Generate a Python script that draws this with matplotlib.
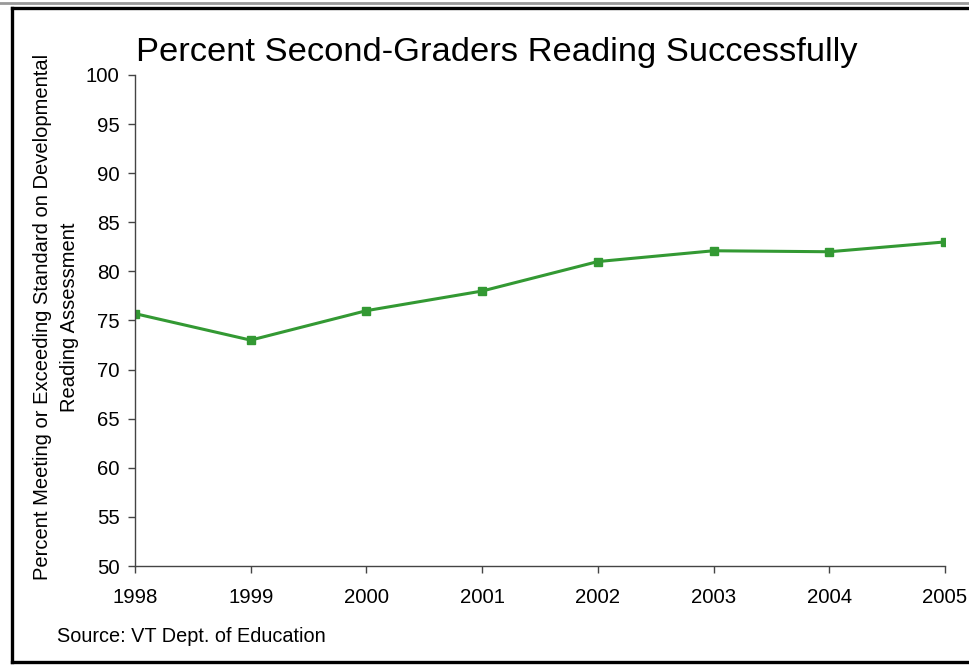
import matplotlib
matplotlib.use('Agg')
from matplotlib import pyplot as plt
from matplotlib.lines import Line2D

plt.rcParams['font.family'] = ['Liberation Sans', 'DejaVu Sans']

years = [1998, 1999, 2000, 2001, 2002, 2003, 2004, 2005]
percent = [75.7, 73.0, 76.0, 78.0, 81.0, 82.1, 82.0, 83.0]
y_ticks = list(range(50, 101, 5))

fig = plt.figure(figsize=(9.69, 6.67), dpi=100)
ax = fig.add_axes([0.1393, 0.1514, 0.8359, 0.7362])

ax.plot(years, percent, color='#339933', lw=2.2, marker='s', markersize=6)

ax.set_xlim(1998, 2005)
ax.set_ylim(50, 100)
ax.set_xticks(years)
ax.set_yticks(y_ticks)
ax.tick_params(axis='both', labelsize=14.7, direction='out', length=5,
               width=1, color='#444444')
ax.tick_params(axis='y', pad=6)
ax.tick_params(axis='x', pad=11)
for side in ('top', 'right'):
    ax.spines[side].set_visible(False)
for side in ('left', 'bottom'):
    ax.spines[side].set_color('#444444')
    ax.spines[side].set_linewidth(1)

fig.text(0.513, 0.9085, 'Percent Second-Graders Reading Successfully',
         fontsize=24.8, ha='center', va='baseline')
fig.text(0.0575, 0.525,
         'Percent Meeting or Exceeding Standard on Developmental\nReading Assessment',
         fontsize=14.5, rotation=90, ha='center', va='center',
         multialignment='center', linespacing=1.55)
fig.text(0.059, 0.045, 'Source: VT Dept. of Education', fontsize=14.3,
         ha='left', va='center')

# frame around the figure (open on the right)
fig.add_artist(Line2D([0, 1], [0.995, 0.995], color='#999999', lw=2,
                      transform=fig.transFigure))
fig.add_artist(Line2D([0.012, 1], [0.988, 0.988], color='black', lw=2.4,
                      transform=fig.transFigure))
fig.add_artist(Line2D([0.012, 0.012], [0.988, 0.007], color='black', lw=2.4,
                      transform=fig.transFigure))
fig.add_artist(Line2D([0.012, 1], [0.007, 0.007], color='black', lw=2.4,
                      transform=fig.transFigure))

fig.savefig('out.png', dpi=100)
